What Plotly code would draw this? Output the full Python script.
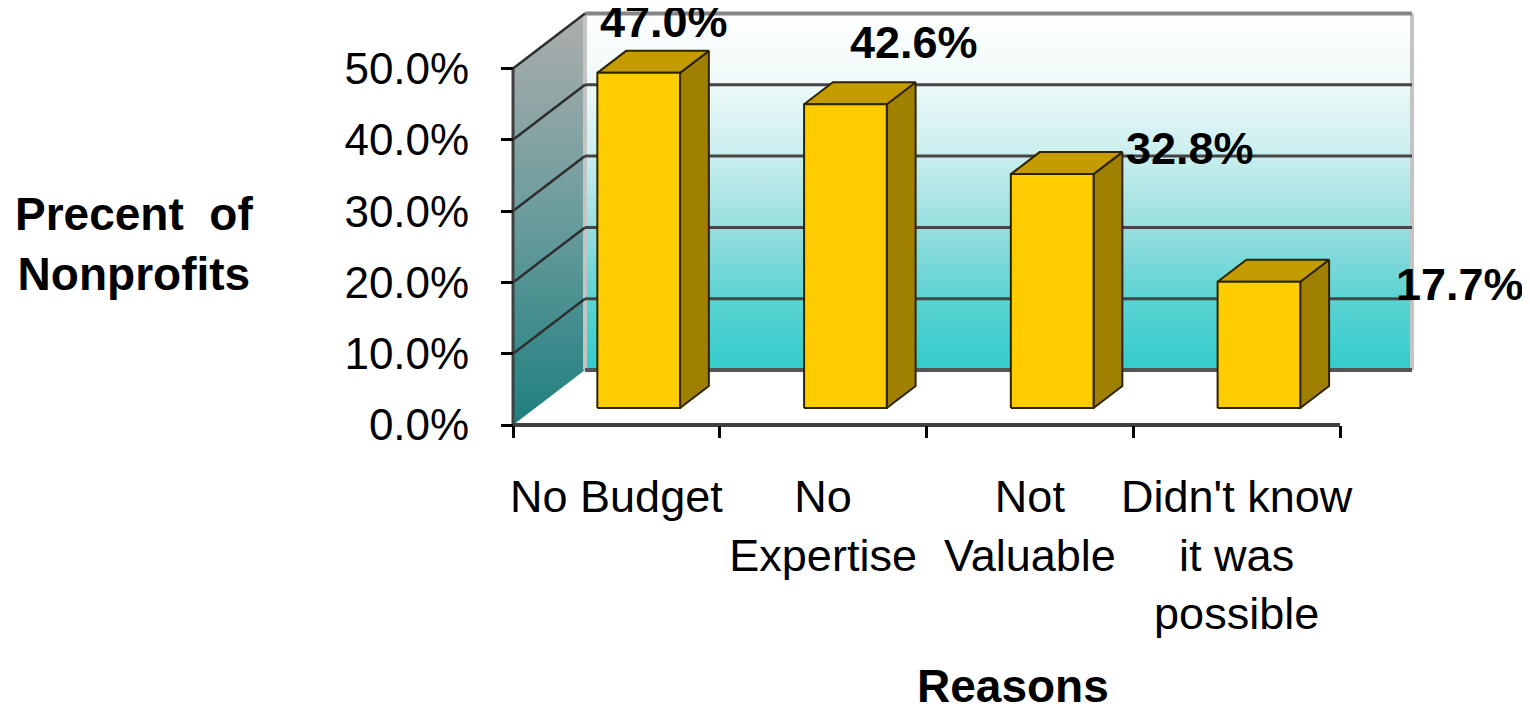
import plotly.graph_objects as go

# ---------------- data ----------------
categories = ["No Budget", "No<br>Expertise", "Not<br>Valuable", "Didn't know<br>it was<br>possible"]
values = [47.0, 42.6, 32.8, 17.7]
value_labels = ["47.0%", "42.6%", "32.8%", "17.7%"]
y_ticks = [0, 10, 20, 30, 40, 50]
y_tick_labels = ["0.0%", "10.0%", "20.0%", "30.0%", "40.0%", "50.0%"]
x_title = "Reasons"
y_title = "Precent&nbsp; of<br>Nonprofits"

# ---------------- layout / geometry (page pixels) ----------------
OFF = 8                               # default body margin of the html page
W, H = 1530 - OFF, 707 - OFF
PLOT_L, PLOT_R, PLOT_T, PLOT_B = 490, 1430, 8, 445
ML, MT = PLOT_L - OFF, PLOT_T - OFF
MR, MB = W - (PLOT_R - OFF), H - (PLOT_B - OFF)
AX_X0_PX = 513          # pixel of x=0 (front plane)
CAT_PX = 206.75         # pixels per category
AX_Y0_PX = 425          # pixel of y=0 (front plane)
VAL_PX = 7.13           # pixels per percent
DEPTH_PX = (72, 55)     # front -> back wall offset in pixels
BAR_D = (0.31, 0.71)    # bar front/back depth fractions
BAR_W = 0.4
YMAX = 50
N = len(values)

plot_w = PLOT_R - PLOT_L
plot_h = PLOT_B - PLOT_T
x_rng = [(PLOT_L - AX_X0_PX) / CAT_PX, (PLOT_R - AX_X0_PX) / CAT_PX]
y_rng = [(AX_Y0_PX - PLOT_B) / VAL_PX, (AX_Y0_PX - PLOT_T) / VAL_PX]
DX = DEPTH_PX[0] / CAT_PX
DY = DEPTH_PX[1] / VAL_PX


def proj(x, y, d):
    return x + d * DX, y + d * DY


def poly(pts):
    xs = [p[0] for p in pts] + [pts[0][0]]
    ys = [p[1] for p in pts] + [pts[0][1]]
    return xs, ys


FONT = "Arial, 'Liberation Sans', sans-serif"
fig = go.Figure()

# back wall (gradient)
bw = [proj(0, 0, 1), proj(N, 0, 1), proj(N, YMAX, 1), proj(0, YMAX, 1)]
xs, ys = poly(bw)
fig.add_trace(go.Scatter(
    x=xs, y=ys, mode="lines", fill="toself", line=dict(width=0),
    fillgradient=dict(type="vertical", start=DY, stop=YMAX + DY,
                      colorscale=[[0, "#33CCCC"], [0.2, "#5CD3D3"], [0.4, "#98DEDE"],
                                  [0.6, "#C9EEEE"], [0.8, "#EEF9F9"], [1, "#FFFFFF"]]),
    hoverinfo="skip"))

# side wall (gradient)
sw = [proj(0, 0, 0), proj(0, 0, 1), proj(0, YMAX, 1), proj(0, YMAX, 0)]
xs, ys = poly(sw)
fig.add_trace(go.Scatter(
    x=xs, y=ys, mode="lines", fill="toself", line=dict(width=0),
    fillgradient=dict(type="vertical", start=0, stop=YMAX + DY,
                      colorscale=[[0, "#1F7F7F"], [0.5, "#6A9C9C"], [1, "#ADADAD"]]),
    hoverinfo="skip"))


def seg_trace(segs, color, width):
    xs, ys = [], []
    for a, b in segs:
        xs += [a[0], b[0], None]
        ys += [a[1], b[1], None]
    return go.Scatter(x=xs, y=ys, mode="lines", line=dict(color=color, width=width),
                      hoverinfo="skip")


# back wall edges and grid
fig.add_trace(seg_trace([(proj(0, 0, 1), proj(0, YMAX, 1)), (proj(N, 0, 1), proj(N, YMAX, 1))],
                        "#C4C4C4", 4))
fig.add_trace(seg_trace([(proj(0, YMAX, 1), proj(N, YMAX, 1))], "#858585", 4))
grid_vals = [v for v in y_ticks if 0 < v < YMAX]
fig.add_trace(seg_trace([(proj(0, v, 1), proj(N, v, 1)) for v in grid_vals], "#454545", 3))
fig.add_trace(seg_trace([(proj(0, 0, 1), proj(N, 0, 1))], "#555555", 4))
# side wall grid diagonals
fig.add_trace(seg_trace([(proj(0, v, 0), proj(0, v, 1)) for v in y_ticks if v > 0], "#2E2E2E", 2.5))

# bars
for i, v in enumerate(values):
    x0 = i + 0.5 - BAR_W / 2
    x1 = i + 0.5 + BAR_W / 2
    f, b = BAR_D
    faces = [
        ([proj(x1, 0, f), proj(x1, 0, b), proj(x1, v, b), proj(x1, v, f)], "#A08000"),
        ([proj(x0, v, f), proj(x1, v, f), proj(x1, v, b), proj(x0, v, b)], "#C49C00"),
        ([proj(x0, 0, f), proj(x1, 0, f), proj(x1, v, f), proj(x0, v, f)], "#FFCC00"),
    ]
    for pts, col in faces:
        xs, ys = poly(pts)
        fig.add_trace(go.Scatter(x=xs, y=ys, mode="lines", fill="toself", fillcolor=col,
                                 line=dict(color="#2E2400", width=2), hoverinfo="skip"))

# front axis lines
fig.add_trace(seg_trace([(proj(0, 0, 0), proj(N, 0, 0))], "#404040", 4))
fig.add_trace(seg_trace([(proj(0, 0, 0), proj(0, YMAX, 0))], "#404040", 3))

# data labels
LABEL_SHIFT = [(-45, 29), (-2, 40), (68, 4), (131, -25)]
for i, v in enumerate(values):
    ax, ay = proj(i + 0.5 + BAR_W / 2, v, BAR_D[1])
    fig.add_annotation(x=ax, y=ay, text="<b>%s</b>" % value_labels[i], showarrow=False,
                       xshift=LABEL_SHIFT[i][0], yshift=LABEL_SHIFT[i][1],
                       font=dict(family=FONT, size=45, color="black"),
                       xanchor="center", yanchor="middle")


def px_to_paper(px, py):
    return (px - PLOT_L) / plot_w, (PLOT_B - py) / plot_h


tx, ty = px_to_paper(134, 244)
fig.add_annotation(x=tx, y=ty, xref="paper", yref="paper", text="<b>%s</b>" % y_title,
                   showarrow=False, font=dict(family=FONT, size=46, color="black"),
                   xanchor="center", yanchor="middle", align="center")
rx, ry = px_to_paper(1013, 686)
fig.add_annotation(x=rx, y=ry, xref="paper", yref="paper", text="<b>%s</b>" % x_title,
                   showarrow=False, font=dict(family=FONT, size=46, color="black"),
                   xanchor="center", yanchor="middle")

fig.update_layout(
    width=W, height=H, autosize=False,
    margin=dict(l=ML, r=MR, t=MT, b=MB, pad=0),
    paper_bgcolor="white", plot_bgcolor="rgba(0,0,0,0)",
    showlegend=False,
    xaxis=dict(range=x_rng, showgrid=False, zeroline=False, showline=False,
               tickmode="array", tickvals=[i + 0.5 for i in range(N)], ticktext=categories,
               ticks="", anchor="free", position=(PLOT_B - AX_Y0_PX) / plot_h,
               tickfont=dict(family=FONT, size=45, color="black"),
               ticklabelstandoff=41,
               minor=dict(tickmode="array", tickvals=list(range(N + 1)), ticks="outside",
                          ticklen=12, tickwidth=3, tickcolor="black"),
               fixedrange=True),
    yaxis=dict(range=y_rng, showgrid=False, zeroline=False, showline=False,
               tickmode="array", tickvals=y_ticks, ticktext=y_tick_labels,
               ticks="outside", ticklen=12, tickwidth=3, tickcolor="black",
               anchor="free", position=(AX_X0_PX - PLOT_L) / plot_w,
               tickfont=dict(family=FONT, size=44, color="black"),
               ticklabelstandoff=23, fixedrange=True),
)

fig.write_html("out.html")
